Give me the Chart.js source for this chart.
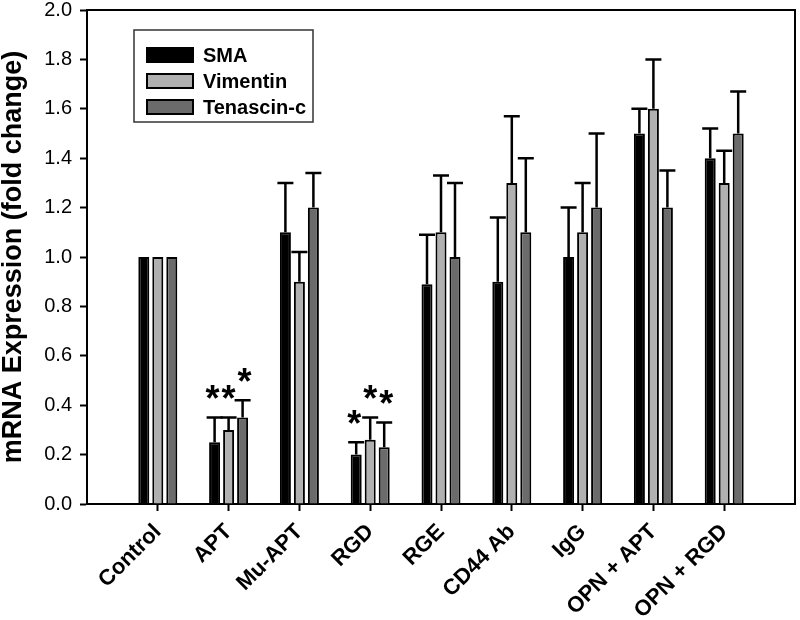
<!DOCTYPE html>
<html>
<head>
<meta charset="utf-8">
<script src="https://cdn.jsdelivr.net/npm/chart.js@4.4.0/dist/chart.umd.min.js"></script>
<style>
  html, body { margin: 0; padding: 0; background: #fff; }
</style>
</head>
<body>
<canvas id="grafico" width="800" height="620"></canvas>
<script>
// categorias do eixo x
const categorias = ['Control', 'APT', 'Mu-APT', 'RGD', 'RGE', 'CD44 Ab', 'IgG', 'OPN + APT', 'OPN + RGD'];

// medias (fold change)
const sma      = [1.00, 0.25, 1.10, 0.20, 0.89, 0.90, 1.00, 1.50, 1.40];
const vimentin = [1.00, 0.30, 0.90, 0.26, 1.10, 1.30, 1.10, 1.60, 1.30];
const tenascin = [1.00, 0.35, 1.20, 0.23, 1.00, 1.10, 1.20, 1.20, 1.50];

// erro (so o lado de cima)
const smaErr      = [0, 0.10, 0.20, 0.05, 0.20, 0.26, 0.20, 0.10, 0.12];
const vimentinErr = [0, 0.05, 0.12, 0.09, 0.23, 0.27, 0.20, 0.20, 0.13];
const tenascinErr = [0, 0.07, 0.14, 0.10, 0.30, 0.30, 0.30, 0.15, 0.17];

// asteriscos (significativo)
const smaSig      = [false, true, false, true, false, false, false, false, false];
const vimentinSig = [false, true, false, true, false, false, false, false, false];
const tenascinSig = [false, true, false, true, false, false, false, false, false];

const fonte = '"Liberation Sans", Arial, sans-serif';

function pontos(valores) {
  return valores.map((v, i) => ({ x: i, y: v }));
}

/************************************/
/* barras de erro + asteriscos */
const barrasErro = {
  id: 'barrasErro',
  afterDatasetsDraw(chart) {
    const ctx = chart.ctx;
    const eixoY = chart.scales.y;
    ctx.save();
    chart.data.datasets.forEach((ds, d) => {
      const meta = chart.getDatasetMeta(d);
      meta.data.forEach((bar, i) => {
        const topo = ds.data[i].y + ds.erro[i];
        const yTopo = eixoY.getPixelForValue(topo);
        if (ds.erro[i] > 0) {
          ctx.strokeStyle = '#000';
          ctx.lineWidth = 2.5;
          ctx.beginPath();
          ctx.moveTo(bar.x, bar.y);
          ctx.lineTo(bar.x, yTopo);
          ctx.moveTo(bar.x - 8, yTopo);
          ctx.lineTo(bar.x + 8, yTopo);
          ctx.stroke();
        }
        if (ds.sig[i]) {
          ctx.fillStyle = '#000';
          ctx.font = 'bold 36px ' + fonte;
          ctx.textAlign = 'center';
          ctx.textBaseline = 'alphabetic';
          // centro do asterisco ~27px acima da tampa
          const dx = (d - 1) * 2;
          ctx.fillText('*', bar.x + dx, yTopo - 27 + 0.58 * 36);
        }
      });
    });
    ctx.restore();
  }
};

/************************************/
/* caixa em volta + legenda dentro do grafico */
const caixaLegenda = {
  id: 'caixaLegenda',
  afterDraw(chart) {
    const ctx = chart.ctx;
    const area = chart.chartArea;
    ctx.save();
    // linhas de cima e da direita
    ctx.strokeStyle = '#000';
    ctx.lineWidth = 2;
    ctx.beginPath();
    ctx.moveTo(area.left, area.top);
    ctx.lineTo(area.right, area.top);
    ctx.lineTo(area.right, area.bottom);
    ctx.stroke();

    // legenda
    ctx.lineWidth = 1.5;
    ctx.strokeStyle = '#333';
    ctx.strokeRect(134, 30, 179, 92);
    chart.data.datasets.forEach((ds, i) => {
      const cy = 55 + i * 26;
      ctx.fillStyle = ds.backgroundColor;
      ctx.fillRect(147, cy - 7, 46, 14);
      ctx.lineWidth = 2;
      ctx.strokeStyle = '#000';
      ctx.strokeRect(147, cy - 7, 46, 14);
      ctx.fillStyle = '#000';
      ctx.font = 'bold 20px ' + fonte;
      ctx.textAlign = 'left';
      ctx.textBaseline = 'middle';
      ctx.fillText(ds.label, 203, cy + 1);
    });
    ctx.restore();
  }
};

const ctxGrafico = document.getElementById('grafico').getContext('2d');
const grafico = new Chart(ctxGrafico, {
  type: 'bar',
  data: {
    datasets: [
      { label: 'SMA', data: pontos(sma), erro: smaErr, sig: smaSig,
        backgroundColor: '#000000', borderColor: '#000', borderWidth: 2 },
      { label: 'Vimentin', data: pontos(vimentin), erro: vimentinErr, sig: vimentinSig,
        backgroundColor: '#b0b0b0', borderColor: '#000', borderWidth: 2 },
      { label: 'Tenascin-c', data: pontos(tenascin), erro: tenascinErr, sig: tenascinSig,
        backgroundColor: '#6b6b6b', borderColor: '#000', borderWidth: 2 }
    ]
  },
  options: {
    responsive: false,
    animation: false,
    devicePixelRatio: 1,
    categoryPercentage: 0.593,
    barPercentage: 0.786,
    layout: { padding: { top: 0, right: 5, left: 0, bottom: 0 } },
    plugins: {
      legend: { display: false },
      tooltip: { enabled: false }
    },
    scales: {
      x: {
        type: 'linear',
        min: -1,
        max: 9,
        offset: false,
        afterBuildTicks: (s) => { s.ticks = categorias.map((c, i) => ({ value: i })); },
        afterFit: (s) => { s.height = 116; s.paddingLeft = 0; s.paddingRight = 0; },
        grid: { drawOnChartArea: false, drawTicks: true, tickLength: 7, tickWidth: 2, color: '#000', offset: false },
        border: { color: '#000', width: 2 },
        ticks: {
          autoSkip: false,
          minRotation: 45,
          maxRotation: 45,
          padding: 8,
          color: '#000',
          font: { family: fonte, size: 22, weight: 'bold' },
          callback: (v) => categorias[v] ?? ''
        }
      },
      y: {
        min: 0,
        max: 2,
        afterFit: (s) => { s.width = 87; s.paddingTop = 10; s.paddingBottom = 0; },
        grid: { drawOnChartArea: false, drawTicks: true, tickLength: 7, tickWidth: 2, color: '#000' },
        border: { color: '#000', width: 2 },
        ticks: {
          stepSize: 0.2,
          padding: 8,
          color: '#000',
          font: { family: fonte, size: 20 },
          callback: (v) => v.toFixed(1)
        },
        title: {
          display: true,
          text: 'mRNA Expression (fold change)',
          color: '#000',
          padding: 0,
          font: { family: fonte, size: 27, weight: 'bold', lineHeight: 1 }
        }
      }
    }
  },
  plugins: [barrasErro, caixaLegenda]
});
</script>
</body>
</html>
